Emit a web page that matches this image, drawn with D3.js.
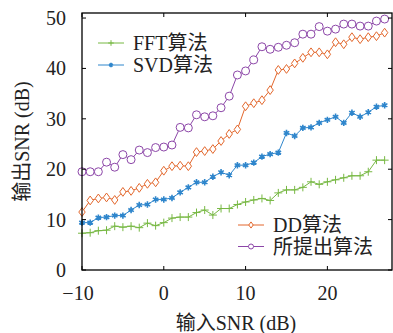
<!DOCTYPE html>
<html>
<head>
<meta charset="utf-8" />
<script src="https://cdn.jsdelivr.net/npm/d3@7"></script>
<style>
  body { margin: 0; background: #fff; }
  text { font-family: "Liberation Serif", "Noto Sans CJK SC", serif; fill: #222; }
</style>
</head>
<body>
<div id="chart"></div>
<script>
// 输入SNR (dB)
var snr = d3.range(-10, 28);
var fft = [7.3, 7.4, 7.8, 7.9, 8.7, 8.5, 8.7, 8.4, 9.3, 8.8, 9.4, 10.3, 10.5, 10.5, 11.4, 11.9, 10.9, 12.2, 12.2, 13.0,
           13.5, 13.9, 14.2, 13.8, 15.3, 15.9, 15.9, 16.4, 17.5, 17.0, 17.5, 17.9, 18.3, 18.7, 18.7, 19.5, 21.8, 21.8];
var svd = [9.4, 9.4, 10.4, 10.5, 10.8, 10.8, 11.9, 12.9, 13.0, 14.0, 14.0, 14.3, 15.4, 16.4, 17.4, 17.4, 18.5, 19.4, 18.8, 20.8,
           20.8, 21.3, 22.5, 23.0, 23.3, 27.2, 26.6, 28.2, 28.3, 29.2, 29.8, 30.4, 29.2, 31.2, 30.4, 31.3, 32.4, 32.7];
var dd = [11.5, 13.8, 14.2, 14.4, 13.9, 15.5, 15.7, 16.3, 17.1, 17.4, 19.7, 20.6, 20.7, 20.6, 23.4, 23.6, 24.0, 25.6, 27.0, 27.9,
          32.5, 33.1, 33.7, 35.7, 39.7, 39.9, 41.0, 42.1, 43.2, 43.2, 42.8, 45.2, 44.8, 46.2, 45.8, 46.2, 46.4, 47.1];
var proposed = [19.5, 19.5, 19.5, 21.4, 20.4, 22.9, 21.9, 23.8, 23.3, 24.3, 24.4, 24.8, 28.3, 28.2, 30.8, 30.4, 30.6, 32.2, 34.5, 38.7,
                39.5, 41.7, 44.3, 43.8, 44.2, 44.6, 45.1, 46.8, 46.8, 48.3, 47.4, 47.8, 48.8, 48.8, 48.4, 48.4, 49.4, 49.8];
var xTicks = [-10, 0, 10, 20];
var yTicks = [0, 10, 20, 30, 40, 50];

var series = [
    { name: "FFT算法", values: fft, color: "#77b843", marker: "plus" },
    { name: "SVD算法", values: svd, color: "#2f86cc", marker: "star" },
    { name: "DD算法", values: dd, color: "#e3672c", marker: "diamond" },
    { name: "所提出算法", values: proposed, color: "#8c46a8", marker: "circle" }
];

var W = 393, H = 333;
var pL = 82, pR = 392, pT = 13, pB = 270;

var svg = d3.select("#chart").append("svg").attr("width", W).attr("height", H);

var x = d3.scaleLinear().domain([-10, 27.9]).range([pL, pR]);
var y = d3.scaleLinear().domain([0, 51]).range([pB, pT]);

// 画标记
function drawMarker(g, type, color, cx, cy, small)
{
    var k = small ? 0.7 : 1;
    if (type == "plus")
    {
        var s = 4 * k;
        g.append("path").attr("d", "M" + (cx - s) + "," + cy + "H" + (cx + s) + "M" + cx + "," + (cy - s) + "V" + (cy + s))
            .attr("stroke", color).attr("stroke-width", 1).attr("fill", "none");
    }
    else if (type == "star")
    {
        var r = 3.2 * k, p = "";
        for (var i = 0; i < 3; i++)
        {
            var a = Math.PI / 2 + i * Math.PI / 3;
            p += "M" + (cx + r * Math.cos(a)) + "," + (cy + r * Math.sin(a)) + "L" + (cx - r * Math.cos(a)) + "," + (cy - r * Math.sin(a));
        }
        g.append("path").attr("d", p).attr("stroke", color).attr("stroke-width", 1.6).attr("fill", "none");
        g.append("circle").attr("cx", cx).attr("cy", cy).attr("r", 1.6 * k).attr("fill", color);
    }
    else if (type == "diamond")
    {
        var w = 3.2 * k, h = 4.4 * k;
        g.append("path").attr("d", "M" + cx + "," + (cy - h) + "L" + (cx + w) + "," + cy + "L" + cx + "," + (cy + h) + "L" + (cx - w) + "," + cy + "Z")
            .attr("stroke", color).attr("stroke-width", 1).attr("fill", "#fff");
    }
    else if (type == "circle")
    {
        g.append("circle").attr("cx", cx).attr("cy", cy).attr("r", (small ? 2.5 : 4))
            .attr("stroke", color).attr("stroke-width", 1).attr("fill", "#fff");
    }
}

var line = d3.line().x(function (d) { return x(d[0]); }).y(function (d) { return y(d[1]); });

series.forEach(function (s)
{
    var pts = snr.map(function (v, i) { return [v, s.values[i]]; });
    var g = svg.append("g");
    g.append("path").datum(pts).attr("d", line).attr("fill", "none").attr("stroke", s.color).attr("stroke-width", 1);
    pts.forEach(function (p)
    {
        drawMarker(g, s.marker, s.color, x(p[0]), y(p[1]), false);
    });
});

// 坐标框和刻度
svg.append("rect").attr("x", pL).attr("y", pT).attr("width", pR - pL).attr("height", pB - pT)
    .attr("fill", "none").attr("stroke", "#000").attr("stroke-width", 1.3);

var tl = 4;
xTicks.forEach(function (t)
{
    svg.append("line").attr("x1", x(t)).attr("x2", x(t)).attr("y1", pB).attr("y2", pB - tl).attr("stroke", "#000");
    svg.append("line").attr("x1", x(t)).attr("x2", x(t)).attr("y1", pT).attr("y2", pT + tl).attr("stroke", "#000");
    svg.append("text").attr("x", x(t) + (t < 0 ? -4 : 0)).attr("y", pB + 30).attr("text-anchor", "middle")
        .style("font-size", "20px").text(t < 0 ? "\u2212" + Math.abs(t) : t);
});
yTicks.forEach(function (t)
{
    svg.append("line").attr("x1", pL).attr("x2", pL + tl).attr("y1", y(t)).attr("y2", y(t)).attr("stroke", "#000");
    svg.append("line").attr("x1", pR).attr("x2", pR - tl).attr("y1", y(t)).attr("y2", y(t)).attr("stroke", "#000");
    svg.append("text").attr("x", pL - 16).attr("y", y(t) + 7).attr("text-anchor", "end")
        .style("font-size", "20px").text(t);
});

// 轴标题
svg.append("text").attr("x", (pL + pR) / 2 - 1).attr("y", 330).attr("text-anchor", "middle")
    .style("font-size", "20px").text("输入SNR (dB)");
svg.append("text").attr("transform", "translate(29," + ((pT + pB) / 2) + ") rotate(-90)")
    .attr("text-anchor", "middle").style("font-size", "20px").text("输出SNR (dB)");

// 图例
function legend(items, lx, ly, dy)
{
    items.forEach(function (s, i)
    {
        var yy = ly + i * dy;
        svg.append("line").attr("x1", lx).attr("x2", lx + 26).attr("y1", yy).attr("y2", yy)
            .attr("stroke", s.color).attr("stroke-width", 1);
        drawMarker(svg, s.marker, s.color, lx + 13, yy, true);
        svg.append("text").attr("x", lx + 35).attr("y", yy + 7).style("font-size", "20px").text(s.name);
    });
}
legend(series.slice(0, 2), 98, 43, 22);
legend(series.slice(2), 238, 225, 21.5);
</script>
</body>
</html>
